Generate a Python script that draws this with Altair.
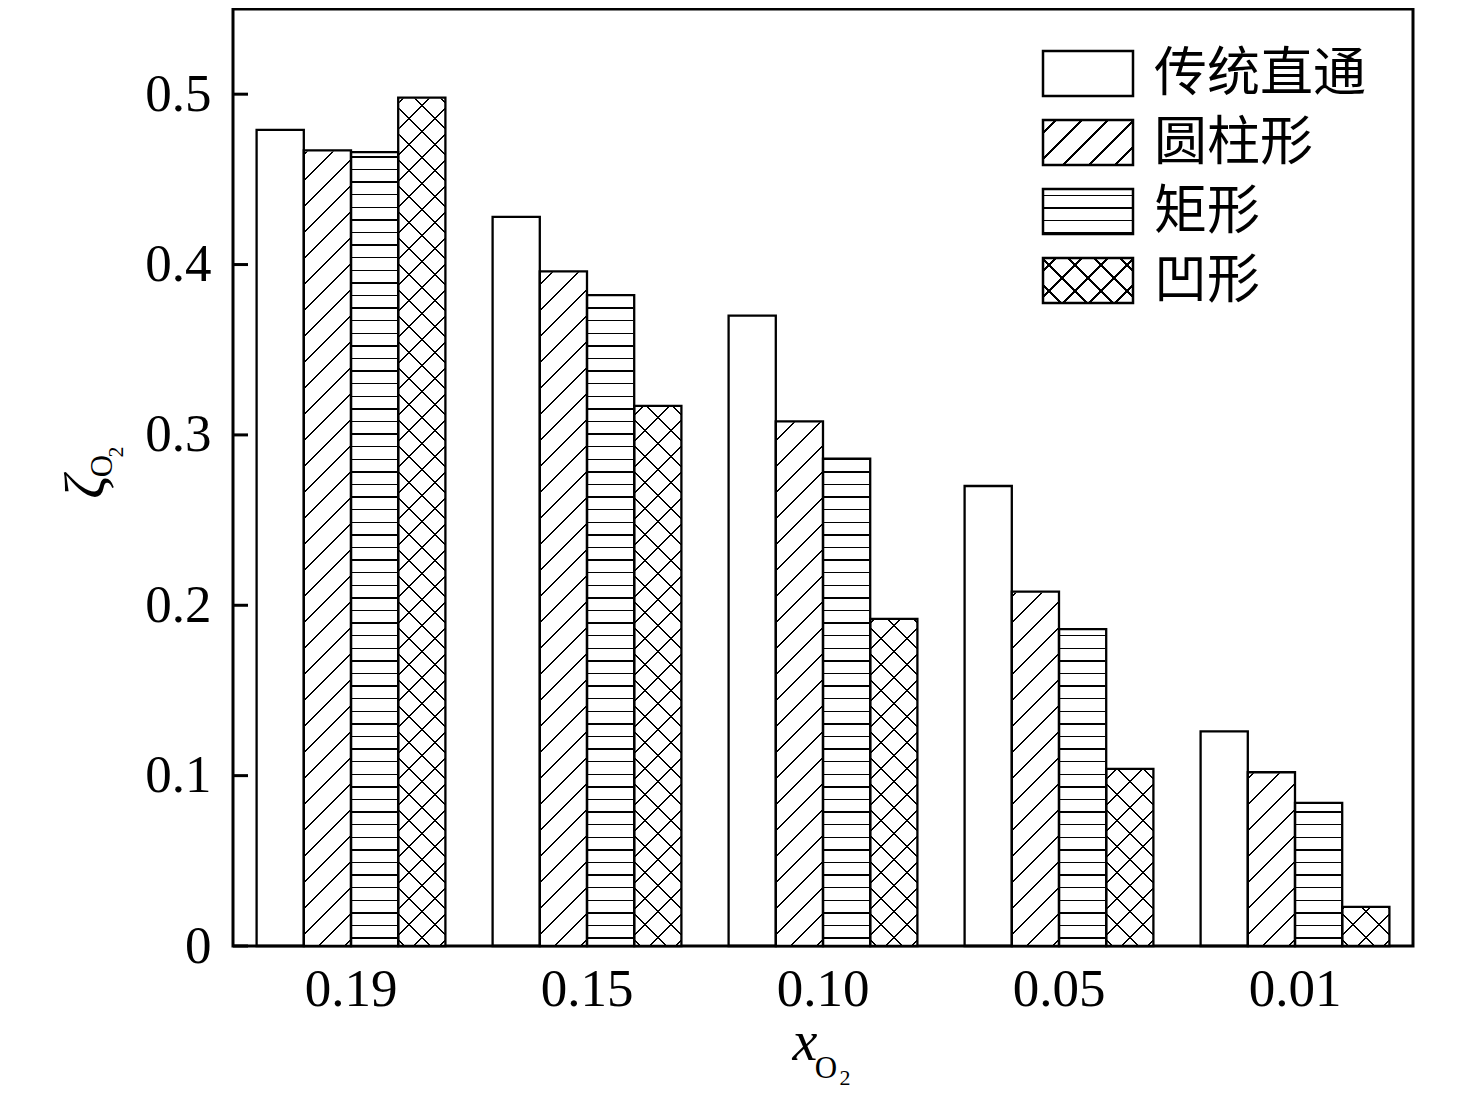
import altair as alt
import pandas as pd

# ---- data ----
groups = ["0.19", "0.15", "0.10", "0.05", "0.01"]
series = ["传统直通", "圆柱形", "矩形", "凹形"]
v_trad = [0.479, 0.428, 0.370, 0.270, 0.126]
v_cyl = [0.467, 0.396, 0.308, 0.208, 0.102]
v_rect = [0.466, 0.382, 0.286, 0.186, 0.084]
v_conc = [0.498, 0.317, 0.192, 0.104, 0.023]
yticks = [0, 0.1, 0.2, 0.3, 0.4, 0.5]

values = [v_trad, v_cyl, v_rect, v_conc]
rows = []
for s, vals in zip(series, values):
    for g, v in zip(groups, vals):
        rows.append({"group": g, "series": s, "value": v})
df = pd.DataFrame(rows)
tick_df = pd.DataFrame({"t": yticks})
one = pd.DataFrame({"a": [0]})

# ---- layout ----
W, H = 1180, 937
TOPGAP = 3
PH = H - TOPGAP
BAR_W = W / 5 * 0.8 / 4
SERIF = "Liberation Serif"
CJK = "Noto Sans CJK SC"
BG = "white"
CLEAR = "rgba(0,0,0,0)"
INK = "black"


def hatch(x1, y1, x2, y2, span, period, line, bg, fg):
    T = period / span
    L = line / span
    stops = [{"offset": 0, "color": bg}]
    c = T / 2
    while c - L / 2 < 1:
        a = max(0.0, c - L / 2)
        b = min(1.0, c + L / 2)
        stops += [
            {"offset": round(a, 6), "color": bg},
            {"offset": round(a, 6), "color": fg},
            {"offset": round(b, 6), "color": fg},
            {"offset": round(b, 6), "color": bg},
        ]
        c += T
    stops.append({"offset": 1, "color": bg})
    return {"gradient": "linear", "x1": x1, "y1": y1, "x2": x2, "y2": y2, "stops": stops}


def horiz(w, h, bg):
    return hatch(0, 0, 0, 1, h, 12.6, 1.5, bg, INK)


def fwd(w, h, bg):  # "/" lines
    k = (w + h) / (w * w + h * h)
    return hatch(0, 0, k * w, k * h, w + h, 26, 2.2, bg, INK)


def back(w, h, bg):  # "\" lines
    k = (w + h) / (w * w + h * h)
    return hatch(1, 0, 1 - k * w, k * h, w + h, 26, 2.2, bg, INK)


xs = alt.Scale(domain=groups, paddingInner=0.2, paddingOuter=0.1)
xo = alt.Scale(domain=series, paddingInner=0, paddingOuter=0)
ys = alt.Scale(domain=[0, 0.55], nice=False, zero=True)
xaxis = alt.Axis(title=None, labelAngle=0)
yaxis = alt.Axis(title=None, values=yticks, format="~g")


def X():
    return alt.X("group:N", scale=xs, axis=xaxis)


def XO():
    return alt.XOffset("series:N", scale=xo)


layers = []

# full-height hatch fills, one gradient per series
fills = {
    "圆柱形": [fwd(BAR_W, PH, BG)],
    "矩形": [horiz(BAR_W, PH, BG)],
    "凹形": [fwd(BAR_W, PH, BG), back(BAR_W, PH, CLEAR)],
}
for s, grads in fills.items():
    for g in grads:
        layers.append(
            alt.Chart(df[df.series == s]).mark_rect(fill=g, strokeWidth=0).encode(
                x=X(), xOffset=XO(), y=alt.value(H), y2=alt.value(TOPGAP)
            )
        )

# white covers above each patterned bar
layers.append(
    alt.Chart(df[df.series != series[0]]).mark_rect(
        fill="white", stroke="white", strokeWidth=2
    ).encode(
        x=X(), xOffset=XO(), y=alt.Y("value:Q", scale=ys, axis=yaxis), y2=alt.value(3)
    )
)

# bar outlines
layers.append(
    alt.Chart(df).mark_bar(fillOpacity=0, stroke=INK, strokeWidth=2.3).encode(
        x=X(), xOffset=XO(), y=alt.Y("value:Q", scale=ys, axis=yaxis)
    )
)

# inward y ticks
layers.append(
    alt.Chart(tick_df).mark_rule(color=INK, strokeWidth=3).encode(
        y=alt.Y("t:Q", scale=ys, axis=yaxis), x=alt.value(0), x2=alt.value(15)
    )
)

# legend
SW, SH = 90, 45
LX = 810
tops = [42, 111, 180, 249]
leg_fills = {
    0: [BG],
    1: [fwd(SW, SH, BG)],
    2: [horiz(SW, SH, BG)],
    3: [fwd(SW, SH, BG), back(SW, SH, CLEAR)],
}
for i, s in enumerate(series):
    top = tops[i]
    for f in leg_fills[i]:
        layers.append(
            alt.Chart(one).mark_rect(fill=f, strokeWidth=0).encode(
                x=alt.value(LX), x2=alt.value(LX + SW), y=alt.value(top), y2=alt.value(top + SH)
            )
        )
    layers.append(
        alt.Chart(one).mark_rect(fillOpacity=0, stroke=INK, strokeWidth=2.5).encode(
            x=alt.value(LX), x2=alt.value(LX + SW), y=alt.value(top), y2=alt.value(top + SH)
        )
    )
    layers.append(
        alt.Chart(one).mark_text(
            text=s, font=CJK, fontSize=53, align="left", baseline="middle", color=INK
        ).encode(x=alt.value(921), y=alt.value(top + SH / 2 + 1))
    )

# axis titles with subscripts
def txt(t, x, y, size, style="normal", angle=0):
    kw = dict(text=t, font=SERIF, fontSize=size, fontStyle=style, align="center",
              baseline="alphabetic", color=INK)
    if angle:
        kw["angle"] = angle
    return alt.Chart(one).mark_text(**kw).encode(x=alt.value(x), y=alt.value(y))


layers.append(txt("x", 572, 1051, 56, "italic"))
layers.append(txt("O", 593, 1069, 31))
layers.append(txt("2", 612, 1076, 22))

layers.append(txt("ζ", -129, 478, 58, "italic", 270))
layers.append(txt("O", -121, 457, 31, "normal", 270))
layers.append(txt("2", -110, 443, 22, "normal", 270))

chart = (
    alt.layer(*layers)
    .properties(
        width=W,
        height=H,
        padding={"left": 225, "top": 1, "right": 10, "bottom": 150},
        autosize=alt.AutoSizeParams(type="none"),
    )
    .configure_view(stroke=INK, strokeWidth=3)
    .configure_axis(
        domain=False, ticks=False, tickSize=0, grid=False,
        labelFont=SERIF, labelFontSize=53, labelColor=INK,
    )
    .configure_axisX(labelPadding=17)
    .configure_axisY(labelPadding=22)
)

chart.save("out.html", embed_options={"renderer": "svg", "actions": False})
